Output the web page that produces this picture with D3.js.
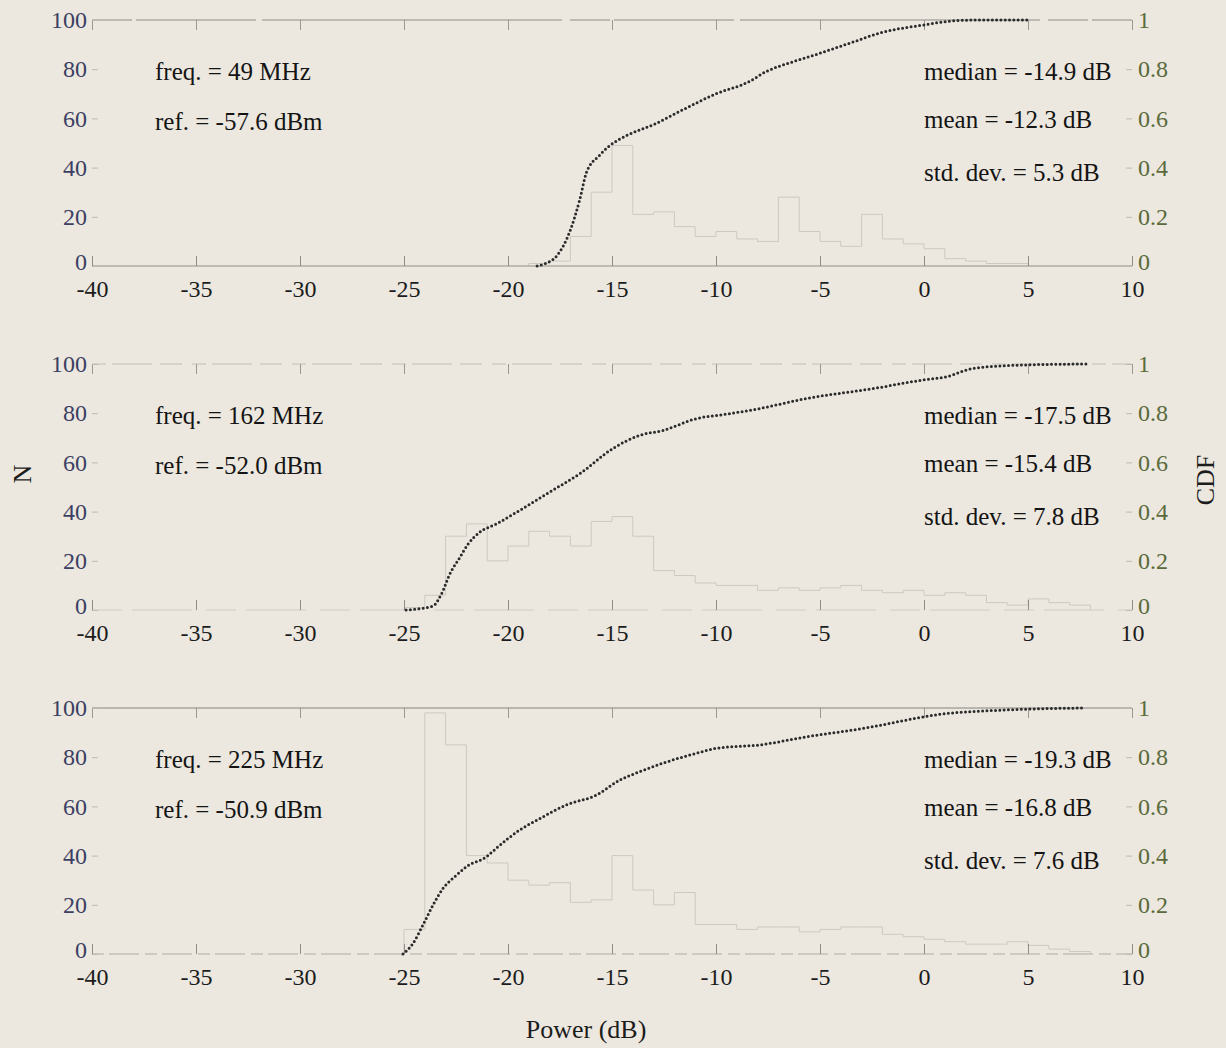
<!DOCTYPE html>
<html>
<head>
<meta charset="utf-8">
<script src="https://cdn.jsdelivr.net/npm/d3@7"></script>
<style>
  html, body { margin: 0; padding: 0; background: #ece8df; }
  svg { display: block; }
  text { font-family: "Liberation Serif", "Times New Roman", serif; }
</style>
</head>
<body>
<svg id="chart" width="1226" height="1048"></svg>
<script>
// ---------------- data ----------------
const xTicks = [-40, -35, -30, -25, -20, -15, -10, -5, 0, 5, 10];
const nTicks = [0, 20, 40, 60, 80, 100];
const cdfTicks = [0, 0.2, 0.4, 0.6, 0.8, 1];

const freqLabels = ["freq. = 49 MHz", "freq. = 162 MHz", "freq. = 225 MHz"];
const refLabels = ["ref. = -57.6 dBm", "ref. = -52.0 dBm", "ref. = -50.9 dBm"];
const medianLabels = ["median = -14.9 dB", "median = -17.5 dB", "median = -19.3 dB"];
const meanLabels = ["mean = -12.3 dB", "mean = -15.4 dB", "mean = -16.8 dB"];
const stdLabels = ["std. dev. = 5.3 dB", "std. dev. = 7.8 dB", "std. dev. = 7.6 dB"];

// histogram: first bin left edge (dB), 1 dB bins, counts N
const histStart = [-19, -25, -25];
const histN49 = [1, 2, 12, 30, 49, 21, 22, 16, 12, 14, 11, 10, 28, 14, 10, 8, 21, 11, 9, 7, 3, 2, 1, 1];
const histN162 = [1, 6, 30, 35, 20, 26, 32, 30, 26, 36, 38, 30, 16, 14, 11, 10, 10, 8, 9, 8, 9, 10, 8, 7, 8, 6, 7, 6, 3, 2, 4.5, 3, 2];
const histN225 = [10, 98, 85, 40, 37, 30, 28, 29, 21, 22, 40, 26, 20, 25, 12, 12, 10, 11, 11, 9, 10, 11, 11, 8, 7, 6, 5, 4, 4, 5, 3.5, 2, 1];

// CDF curves (dB, CDF)
const cdfX49 = [-18.6, -18.2, -17.67, -17.03, -16.55, -16.23, -15.6, -15.1, -14.3, -13.0, -11.6, -10.0, -8.4, -7.6, -6.3, -5.0, -3.6, -2.0, 0.0, 1.2, 2.5, 5.0];
const cdfY49 = [0, 0.01, 0.04, 0.14, 0.27, 0.38, 0.45, 0.49, 0.53, 0.575, 0.635, 0.70, 0.75, 0.79, 0.83, 0.865, 0.905, 0.95, 0.98, 0.995, 1.0, 1.0];
const cdfX162 = [-24.9, -24.3, -23.6, -23.2, -22.8, -22.32, -21.92, -21.36, -20.56, -19.44, -18.15, -16.55, -14.95, -13.67, -12.55, -10.94, -9.34, -7.9, -5.65, -2.45, -0.05, 1.07, 2.36, 4.76, 7.8];
const cdfY162 = [0, 0.005, 0.017, 0.065, 0.146, 0.213, 0.268, 0.316, 0.35, 0.405, 0.472, 0.554, 0.657, 0.71, 0.73, 0.778, 0.798, 0.819, 0.86, 0.90, 0.935, 0.948, 0.982, 0.996, 1.0];
const cdfX225 = [-25.05, -24.57, -24.09, -23.6, -23.12, -22.48, -22.0, -21.04, -20.56, -19.44, -18.48, -17.2, -15.75, -14.63, -13.67, -12.4, -10.94, -10.0, -7.9, -5.65, -2.45, -0.85, 0.75, 3.96, 7.64];
const cdfY225 = [0, 0.043, 0.118, 0.2, 0.267, 0.32, 0.355, 0.395, 0.43, 0.504, 0.55, 0.606, 0.646, 0.707, 0.741, 0.78, 0.816, 0.836, 0.85, 0.883, 0.924, 0.951, 0.974, 0.992, 1.0];

const histAll = [histN49, histN162, histN225];
const cdfXAll = [cdfX49, cdfX162, cdfX225];
const cdfYAll = [cdfY49, cdfY162, cdfY225];

// ---------------- layout ----------------
const svg = d3.select("#chart");
const left = 92, right = 1132;
const panelTops = [20, 364, 708];
const panelH = 246;

const x = d3.scaleLinear().domain([-40, 10]).range([left, right]);

const frameStyles = [
  { top: "#8d8b87", topDash: "40 4 120 6 300 8", bottom: "#8f8d89", bottomDash: null },
  { top: "#c2beb7", topDash: "14 6 40 8 22 10", bottom: "#cfcbc4", bottomDash: "30 10 60 14" },
  { top: "#858380", topDash: null, bottom: "#aeaba6", bottomDash: "12 5 30 6" }
];

panelTops.forEach((top, i) => {
  const g = svg.append("g");
  const yN = d3.scaleLinear().domain([0, 100]).range([top + panelH, top]);
  const yC = d3.scaleLinear().domain([0, 1]).range([top + panelH, top]);
  const fs = frameStyles[i];

  // histogram steps (faint, as in the faded original)
  const counts = histAll[i];
  const start = histStart[i];
  const pts = [[start, 0]];
  counts.forEach((n, k) => pts.push([start + k, n]));
  pts.push([start + counts.length, 0]);
  const step = d3.line().x(d => x(d[0])).y(d => yN(d[1])).curve(d3.curveStepAfter);
  g.append("path").attr("d", step(pts)).attr("fill", "none")
    .attr("stroke", "#cdc9c1").attr("stroke-width", 1);

  // frame top/bottom
  g.append("line").attr("x1", left).attr("x2", right).attr("y1", yN(100)).attr("y2", yN(100))
    .attr("stroke", fs.top).attr("stroke-width", 1.2).attr("stroke-dasharray", fs.topDash);
  g.append("line").attr("x1", left).attr("x2", right).attr("y1", yN(0)).attr("y2", yN(0))
    .attr("stroke", fs.bottom).attr("stroke-width", 1.2).attr("stroke-dasharray", fs.bottomDash);

  // top ticks (inward)
  const topAxis = g.append("g").attr("transform", `translate(0,${yN(100)})`)
    .call(d3.axisTop(x).tickValues(xTicks).tickSizeInner(-10).tickSizeOuter(0).tickFormat(""));
  topAxis.select(".domain").remove();
  topAxis.selectAll("line").attr("stroke", "#9a9894");

  // bottom axis: inward ticks, labels
  const botAxis = g.append("g").attr("transform", `translate(0,${yN(0)})`)
    .call(d3.axisBottom(x).tickValues(xTicks).tickSizeInner(-10).tickSizeOuter(0).tickPadding(14).tickFormat(d => d));
  botAxis.select(".domain").remove();
  botAxis.selectAll("line").attr("stroke", "#8e8c88");
  botAxis.selectAll("text").attr("fill", "#1c1c1c").style("font-size", "24px")
    .style("font-family", "'Liberation Serif', serif");

  // left axis N
  const lAxis = g.append("g").attr("transform", `translate(${left},0)`)
    .call(d3.axisLeft(yN).tickValues(nTicks).tickSizeInner(-6).tickSizeOuter(0).tickPadding(5).tickFormat(d => d));
  lAxis.select(".domain").remove();
  lAxis.selectAll("line").attr("stroke", "#bdbab4");
  lAxis.selectAll("text").attr("fill", "#3c3f63").style("font-size", "24px")
    .style("font-family", "'Liberation Serif', serif");
  lAxis.selectAll(".tick").filter(d => d === 0).select("text").attr("dy", "0.15em");

  // right axis CDF
  const rAxis = g.append("g").attr("transform", `translate(${right},0)`)
    .call(d3.axisRight(yC).tickValues(cdfTicks).tickSizeInner(-6).tickSizeOuter(0).tickPadding(6).tickFormat(d => String(d)));
  rAxis.select(".domain").remove();
  rAxis.selectAll("line").attr("stroke", "#bdbab4");
  rAxis.selectAll("text").attr("fill", "#5a6a3b").style("font-size", "24px")
    .style("font-family", "'Liberation Serif', serif");
  rAxis.selectAll(".tick").filter(d => d === 0).select("text").attr("dy", "0.15em");

  // CDF dotted curve
  const cdfPts = cdfXAll[i].map((v, k) => [v, cdfYAll[i][k]]);
  const line = d3.line().x(d => x(d[0])).y(d => yC(d[1])).curve(d3.curveMonotoneX);
  g.append("path").attr("d", line(cdfPts)).attr("fill", "none")
    .attr("stroke", "#2b2b2b").attr("stroke-width", 3).attr("stroke-linecap", "round")
    .attr("stroke-dasharray", "0 4.3");

  // annotations
  const ann = (txt, xx, off) => g.append("text").attr("x", xx).attr("y", top + off)
    .attr("fill", "#141414").style("font-size", "25px").text(txt);
  ann(freqLabels[i], 155, 60);
  ann(refLabels[i], 155, 110);
  ann(medianLabels[i], 924, 60);
  ann(meanLabels[i], 924, 108);
  ann(stdLabels[i], 924, 161);
});

// axis titles
svg.append("text").attr("x", 586).attr("y", 1038).attr("text-anchor", "middle")
  .attr("fill", "#1c1c1c").style("font-size", "26px").text("Power (dB)");
svg.append("text").attr("transform", "translate(31,474) rotate(-90)").attr("text-anchor", "middle")
  .attr("fill", "#1c1c1c").style("font-size", "26px").text("N");
svg.append("text").attr("transform", "translate(1214,480) rotate(-90)").attr("text-anchor", "middle")
  .attr("fill", "#1c1c1c").style("font-size", "26px").text("CDF");
</script>
</body>
</html>
